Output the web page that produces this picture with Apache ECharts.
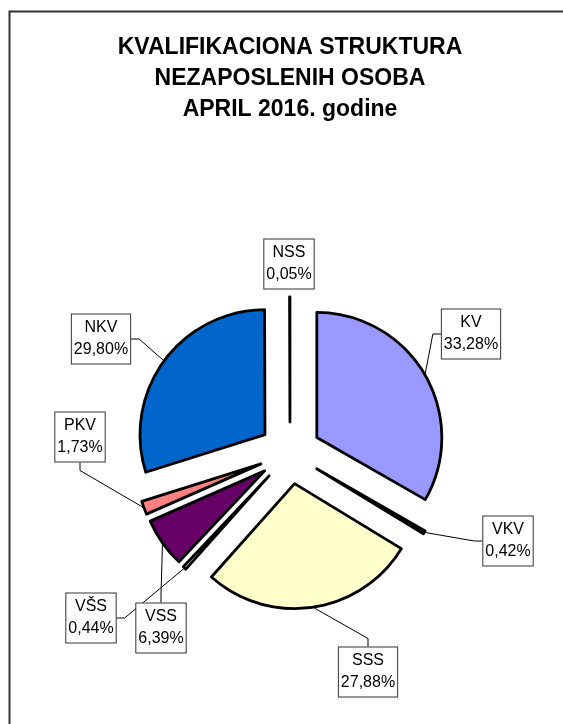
<!DOCTYPE html>
<html>
<head>
<meta charset="utf-8">
<title>Kvalifikaciona struktura</title>
<script src="https://cdn.jsdelivr.net/npm/echarts@6/dist/echarts.min.js"></script>
<style>
  html, body { margin: 0; padding: 0; background: #fff; }
  #chart { width: 563px; height: 724px; }
</style>
</head>
<body>
<div id="chart"></div>
<script>
// podaci (procenti), redom u smjeru kazaljke od vrha
const categories = ["KV", "VKV", "SSS", "VŠS", "VSS", "PKV", "NKV", "NSS"];
const values = [33.28, 0.42, 27.88, 0.44, 6.39, 1.73, 29.80, 0.05];
const sliceColors = ["#9999FF", "#993366", "#FFFFCC", "#CCFFFF", "#660066", "#FF8080", "#0066CC", "#CCCCFF"];

// gdje stoje kutije s natpisima (centar kutije, px)
const labelPos = [
  [471, 334], [508, 541], [368, 672], [91, 618],
  [161, 628], [80, 437], [101, 339], [289, 264]
];

const cx = 290, cy = 453, explode = 31;
const total = values.reduce((a, b) => a + b, 0);
const fmt = v => v.toFixed(2).replace(".", ",") + "%";

// svaki isjecak je svoja pita, pomaknuta od centra (kao "explode" u Excelu)
let series = [];
let cum = 0;
values.forEach((v, i) => {
  const mid = (cum + v / 2) / total * 2 * Math.PI;
  cum += v;
  series.push({
    type: "pie",
    center: [cx + explode * Math.sin(mid), cy - explode * Math.cos(mid)],
    radius: 125,
    startAngle: 90,
    clockwise: true,
    avoidLabelOverlap: false,
    minAngle: 0,
    silent: true,
    emphasis: { disabled: true },
    label: {
      show: true,
      position: "outside",
      formatter: p => p.name + "\n" + fmt(p.value),
      fontFamily: "Liberation Sans, Arial, sans-serif",
      fontSize: 16,
      lineHeight: 22,
      color: "#000",
      align: "center",
      backgroundColor: "#fff",
      borderColor: "#333",
      borderWidth: 1,
      padding: [3, 2, 2, 2]
    },
    labelLine: {
      show: true,
      length: 10,
      length2: 8,
      lineStyle: { color: "#000", width: 1 }
    },
    labelLayout: p => ({
      x: labelPos[p.dataIndex][0],
      y: labelPos[p.dataIndex][1],
      align: "center",
      verticalAlign: "middle"
    }),
    data: categories.map((name, j) => j === i ? {
      name: name,
      value: values[j],
      itemStyle: { color: sliceColors[j], borderColor: "#000", borderWidth: 2.8 },
      labelLine: { show: name !== "NSS" }
    } : {
      name: name,
      value: values[j],
      itemStyle: { color: "rgba(0,0,0,0)", borderWidth: 0 },
      label: { show: false },
      labelLine: { show: false }
    })
  });
});

let option = {
  animation: false,
  title: {
    text: "KVALIFIKACIONA STRUKTURA\nNEZAPOSLENIH OSOBA\nAPRIL 2016. godine",
    left: 290,
    top: 32,
    textAlign: "center",
    padding: 0,
    textStyle: {
      fontFamily: "Liberation Sans, Arial, sans-serif",
      fontSize: 23,
      fontWeight: "bold",
      lineHeight: 31,
      color: "#000"
    }
  },
  graphic: [
    {
      type: "rect",
      z: -10,
      shape: { x: 9.5, y: 11.5, width: 700, height: 900 },
      style: { fill: "none", stroke: "#333", lineWidth: 2 }
    }
  ],
  series: series
};

let myChart = echarts.init(document.getElementById("chart"));
myChart.setOption(option);
</script>
</body>
</html>
